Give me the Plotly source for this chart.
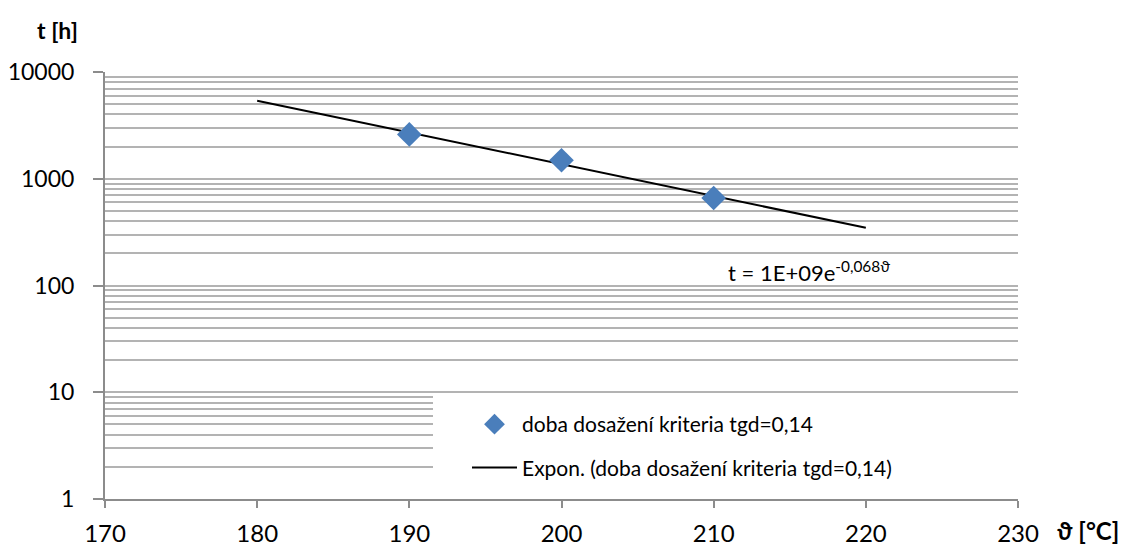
import numpy as np
import plotly.graph_objects as go

# Measured times to reach the loss-factor criterion tgd = 0.14
temperature_c = [190, 200, 210]
time_h = [2600, 1490, 660]

# Exponential trendline range
trend_range = [180, 220]

series_name = "doba dosažení kriteria tgd=0,14"
trend_name = "Expon. (doba dosažení kriteria tgd=0,14)"
equation_text = "t = 1E+09e<sup>-0,068ϑ</sup>"

x_ticks = [170, 180, 190, 200, 210, 220, 230]
y_ticks = [1, 10, 100, 1000, 10000]

# Least-squares exponential fit t = a*exp(b*x)
b, ln_a = np.polyfit(temperature_c, np.log(time_h), 1)
trend_x = np.linspace(trend_range[0], trend_range[1], 50)
trend_y = np.exp(ln_a + b * trend_x)

FONT = "Lato"
GRID = "#b3b3b3"
AXIS = "#8c8c8c"

# Plot area in pixels
W, H = 1128, 550
ML, MR, MT, MB = 105, 110, 72, 51
PW, PH = W - ML - MR, H - MT - MB


def px_x(x):
    return (x - ML) / PW


def px_y(y):
    return (H - MB - y) / PH


fig = go.Figure()

fig.add_trace(go.Scatter(
    x=trend_x, y=trend_y, mode="lines", name=trend_name,
    line=dict(color="black", width=2), legendgroup="b", legendrank=2,
))
fig.add_trace(go.Scatter(
    x=temperature_c, y=time_h, mode="markers", name=series_name,
    marker=dict(symbol="diamond", size=19, color="#4a7ebb"),
    legendgroup="a", legendrank=1,
))

# White panel behind the legend hides the grid there
fig.add_shape(type="rect", xref="paper", yref="paper",
              x0=px_x(433), x1=1.0, y0=px_y(492), y1=px_y(394),
              fillcolor="white", line=dict(width=0), layer="above")

fig.add_annotation(text=equation_text, xref="paper", yref="paper",
                   x=px_x(726), y=px_y(271), xanchor="left", yanchor="middle",
                   showarrow=False, font=dict(family=FONT, size=22, color="black"))
fig.add_annotation(text="<b>t [h]</b>", xref="paper", yref="paper",
                   x=px_x(57), y=px_y(30), xanchor="center", yanchor="middle",
                   showarrow=False, font=dict(family=FONT, size=23, color="black"))
fig.add_annotation(text="<b>ϑ [°C]</b>", xref="paper", yref="paper",
                   x=px_x(1088), y=px_y(530), xanchor="center", yanchor="middle",
                   showarrow=False, font=dict(family=FONT, size=24, color="black"))

fig.update_layout(
    width=W, height=H,
    margin=dict(l=ML, r=MR, t=MT, b=MB, autoexpand=False),
    paper_bgcolor="white", plot_bgcolor="white",
    font=dict(family=FONT, size=21, color="black"),
    showlegend=True,
    legend=dict(x=px_x(467), y=px_y(404), xanchor="left", yanchor="top",
                bgcolor="rgba(0,0,0,0)", tracegroupgap=13,
                itemwidth=45, font=dict(family=FONT, size=21)),
    xaxis=dict(range=[170, 230], tickvals=x_ticks, showgrid=False,
               showline=True, linecolor=AXIS, linewidth=2,
               ticks="outside", ticklen=7, tickcolor=AXIS, tickwidth=2,
               ticklabelstandoff=5, tickfont=dict(size=24),
               zeroline=False, automargin=False),
    yaxis=dict(type="log", range=[0, 4], tickvals=y_ticks,
               ticktext=[str(v) for v in y_ticks],
               showgrid=True, gridcolor=GRID, gridwidth=2,
               showline=True, linecolor=AXIS, linewidth=2,
               ticks="outside", ticklen=10, tickcolor=AXIS, tickwidth=2,
               ticklabelstandoff=14, tickfont=dict(size=23),
               zeroline=False, automargin=False,
               minor=dict(dtick="D1", showgrid=True, gridcolor=GRID,
                          gridwidth=2, ticks="")),
)

fig.write_html("out.html")
